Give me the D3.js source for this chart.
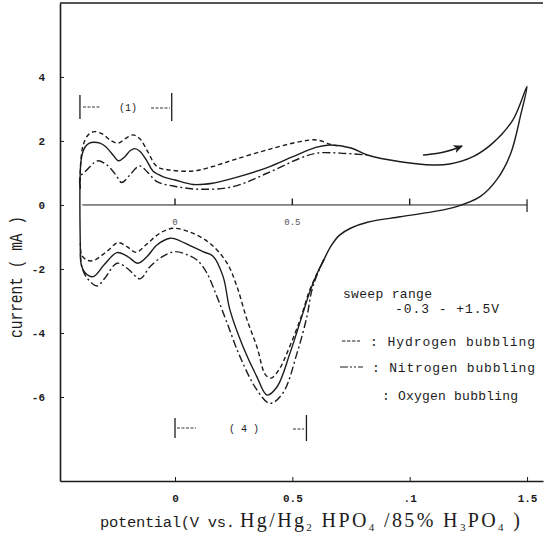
<!DOCTYPE html>
<html>
<head>
<meta charset="utf-8">
<script src="https://cdn.jsdelivr.net/npm/d3@7"></script>
<style>
  body { margin: 0; background: #fff; }
  svg { display: block; }
</style>
</head>
<body>
<svg id="chart" width="545" height="537"></svg>
<script>
// Cyclic voltammograms (sweep -0.3 → +1.5 V) under three bubbling gases
const potentialTicks = [0, 0.5, 1, 1.5];
const potentialTickLabels = ["0", "0.5", ".1", "1.5"];
const currentTicks = [4, 2, 0, -2, -4, -6];
const zeroLineTicks = [0, 0.5, 1];
const zeroLineLabels = ["0", "0.5"];

// [potential (V), current (mA)]
// Oxygen bubbling: full loop, anodic sweep then cathodic return
const oxygenLoop = [
  [-0.403, -1.55], [-0.405, -0.4], [-0.405, 0.6], [-0.402, 1.25], [-0.395, 1.6],
  [-0.383, 1.81], [-0.365, 1.93], [-0.345, 1.96], [-0.32, 1.93], [-0.295, 1.82],
  [-0.265, 1.57], [-0.24, 1.38], [-0.215, 1.5], [-0.19, 1.7], [-0.172, 1.76],
  [-0.15, 1.68], [-0.12, 1.38], [-0.094, 1.06], [-0.05, 0.88], [0, 0.78],
  [0.077, 0.64], [0.16, 0.68], [0.25, 0.84], [0.39, 1.16], [0.5, 1.5],
  [0.6, 1.8], [0.66, 1.875], [0.75, 1.78], [0.82, 1.56], [0.96, 1.35],
  [1.1, 1.25], [1.17, 1.28], [1.27, 1.51], [1.355, 1.94], [1.44, 2.66], [1.5, 3.7],
  [1.475, 2.875], [1.43, 1.6], [1.372, 0.8], [1.3, 0.26], [1.2, -0.05],
  [1.1, -0.21], [0.96, -0.37], [0.82, -0.54], [0.75, -0.72], [0.7, -0.95],
  [0.665, -1.28], [0.635, -1.7], [0.605, -2.15], [0.575, -2.7], [0.545, -3.38],
  [0.49, -4.63], [0.435, -5.68], [0.392, -5.94], [0.349, -5.37], [0.29, -4.43],
  [0.234, -3.28], [0.205, -2.24], [0.162, -1.6], [0.119, -1.46], [0.064, -1.27],
  [0, -1.06], [-0.021, -1.04], [-0.077, -1.25], [-0.12, -1.62], [-0.158, -1.82],
  [-0.2, -1.62], [-0.247, -1.49], [-0.3, -1.85], [-0.349, -2.24], [-0.385, -2.1],
  [-0.4, -1.85], [-0.403, -1.55]
];

// Hydrogen bubbling (dashed)
const hydrogenAnodic = [
  [-0.404, 0.5], [-0.402, 1.3], [-0.392, 1.85], [-0.372, 2.17], [-0.345, 2.29],
  [-0.31, 2.22], [-0.275, 2.02], [-0.243, 1.93], [-0.21, 2.08], [-0.18, 2.19],
  [-0.15, 2.07], [-0.115, 1.65], [-0.077, 1.2], [-0.021, 1.09], [0.077, 1.06],
  [0.16, 1.2], [0.25, 1.41], [0.392, 1.72], [0.533, 1.98], [0.605, 2.03],
  [0.66, 1.9], [0.69, 1.85]
];
const hydrogenCathodic = [
  [0.635, -1.7], [0.605, -2.15], [0.572, -2.7], [0.533, -3.59], [0.477, -4.63],
  [0.447, -5.1], [0.409, -5.41], [0.385, -5.3], [0.349, -4.43], [0.307, -3.59],
  [0.264, -2.55], [0.222, -1.82], [0.149, -1.2], [0.064, -0.85], [-0.009, -0.73],
  [-0.064, -0.88], [-0.12, -1.22], [-0.166, -1.48], [-0.205, -1.3], [-0.243, -1.18],
  [-0.29, -1.45], [-0.349, -1.74], [-0.376, -1.72], [-0.398, -1.56], [-0.403, -1.2]
];

// Nitrogen bubbling (dash-dot)
const nitrogenAnodic = [
  [-0.405, 0.6], [-0.404, 0.88], [-0.376, 1.09], [-0.345, 1.32], [-0.328, 1.38],
  [-0.3, 1.3], [-0.277, 1.16], [-0.25, 0.92], [-0.227, 0.7], [-0.192, 0.94],
  [-0.165, 1.16], [-0.149, 1.22], [-0.119, 1.04], [-0.077, 0.73], [0.009, 0.57],
  [0.107, 0.49], [0.247, 0.57], [0.392, 0.99], [0.533, 1.46], [0.605, 1.62],
  [0.703, 1.62], [0.818, 1.56]
];
const nitrogenCathodic = [
  [0.635, -1.7], [0.607, -2.15], [0.582, -2.7], [0.562, -3.49], [0.52, -4.63],
  [0.46, -5.875], [0.405, -6.2], [0.349, -5.78], [0.277, -4.74], [0.222, -3.69],
  [0.179, -2.87], [0.136, -2.13], [0.094, -1.72], [0.05, -1.55], [0, -1.46],
  [-0.05, -1.6], [-0.107, -1.93], [-0.149, -2.31], [-0.2, -2.0], [-0.247, -1.82],
  [-0.3, -2.3], [-0.332, -2.53], [-0.375, -2.28], [-0.398, -1.9], [-0.403, -1.5]
];

// sweep direction arrow
const sweepArrow = [[1.057, 1.56], [1.15, 1.63], [1.223, 1.84]];

const ink = "#1c1c1c";
const mono = "'Liberation Mono', 'DejaVu Sans Mono', monospace";
const serif = "'Liberation Serif', 'DejaVu Serif', serif";

const svg = d3.select("#chart");
svg.append("rect").attr("width", 545).attr("height", 537).attr("fill", "#fff");

const x = d3.scaleLinear().domain([-0.49, 1.568]).range([60, 543]);
const y = d3.scaleLinear().domain([-8.625, 6.31]).range([481, 3]);

// frame: top rule
svg.append("line")
  .attr("x1", 60).attr("x2", 543).attr("y1", 3).attr("y2", 3)
  .attr("stroke", ink).attr("stroke-width", 1.6);

// axes
const xAxis = d3.axisBottom(x)
  .tickValues(potentialTicks)
  .tickFormat((d, i) => potentialTickLabels[i])
  .tickSizeInner(-4).tickSizeOuter(0).tickPadding(13);
const gx = svg.append("g").attr("transform", `translate(0,${y.range()[0]})`).call(xAxis);

const yAxis = d3.axisLeft(y)
  .tickValues(currentTicks)
  .tickFormat(d => String(d))
  .tickSizeInner(-4).tickSizeOuter(0).tickPadding(15);
const gy = svg.append("g").attr("transform", `translate(${x.range()[0]},0)`).call(yAxis);

[gx, gy].forEach(g => {
  g.select(".domain").attr("stroke", ink).attr("stroke-width", 1.6);
  g.selectAll(".tick line").attr("stroke", ink).attr("stroke-width", 1);
  g.selectAll(".tick text")
    .attr("fill", ink)
    .style("font-family", mono)
    .style("font-weight", "bold")
    .style("font-size", "11px");
});

// zero-current reference line with its own small ticks
const zeroG = svg.append("g");
zeroG.append("line")
  .attr("x1", x(-0.395)).attr("x2", x(1.5))
  .attr("y1", y(0)).attr("y2", y(0))
  .attr("stroke", ink).attr("stroke-width", 1);
zeroG.append("line")
  .attr("x1", x(1.5)).attr("x2", x(1.5))
  .attr("y1", y(0.18)).attr("y2", y(-0.22))
  .attr("stroke", ink).attr("stroke-width", 1.2);
zeroG.selectAll("line.zt").data(zeroLineTicks).join("line")
  .attr("class", "zt")
  .attr("x1", d => x(d)).attr("x2", d => x(d))
  .attr("y1", y(0)).attr("y2", y(0.2))
  .attr("stroke", ink).attr("stroke-width", 1.4);
zeroG.selectAll("text").data(zeroLineLabels).join("text")
  .attr("x", (d, i) => x(zeroLineTicks[i]))
  .attr("y", y(0) + 20)
  .attr("text-anchor", "middle")
  .attr("fill", "#555")
  .style("font-family", mono)
  .style("font-size", "9px")
  .text(d => d);

// curves
const line = d3.line()
  .x(d => x(d[0])).y(d => y(d[1]))
  .curve(d3.curveCatmullRom.alpha(0.5));

const curveG = svg.append("g").attr("fill", "none").attr("stroke", ink)
  .attr("stroke-linejoin", "round");

curveG.append("path").datum(oxygenLoop)
  .attr("d", line).attr("stroke-width", 1.4);

[hydrogenAnodic, hydrogenCathodic].forEach(s => {
  curveG.append("path").datum(s)
    .attr("d", line).attr("stroke-width", 1.4)
    .attr("stroke-dasharray", "4.5,3");
});
[nitrogenAnodic, nitrogenCathodic].forEach(s => {
  curveG.append("path").datum(s)
    .attr("d", line).attr("stroke-width", 1.4)
    .attr("stroke-dasharray", "8,3,2,3");
});

// sweep-direction arrow
svg.append("defs").append("marker")
  .attr("id", "head").attr("viewBox", "0 0 10 10")
  .attr("refX", 8).attr("refY", 5)
  .attr("markerWidth", 7).attr("markerHeight", 7)
  .attr("orient", "auto")
  .append("path").attr("d", "M0,1 L9,5 L0,9 L2.5,5 Z").attr("fill", ink);
svg.append("path").datum(sweepArrow)
  .attr("d", d3.line().x(d => x(d[0])).y(d => y(d[1])).curve(d3.curveBasis))
  .attr("fill", "none").attr("stroke", ink).attr("stroke-width", 1.5)
  .attr("marker-end", "url(#head)");

// region brackets (1) and (4)
function bracket(x0, x1, yc, h0, h1, label, lx, dashL, dashR) {
  const g = svg.append("g").attr("stroke", ink).attr("fill", "none");
  g.append("line").attr("x1", x0).attr("x2", x0).attr("y1", yc - h0).attr("y2", yc + h0).attr("stroke-width", 1.3);
  g.append("line").attr("x1", x1).attr("x2", x1).attr("y1", yc - h1).attr("y2", yc + h1).attr("stroke-width", 1.3);
  g.append("line").attr("x1", dashL[0]).attr("x2", dashL[1]).attr("y1", yc).attr("y2", yc)
    .attr("stroke-width", 0.9).attr("stroke-dasharray", "3,1.5");
  g.append("line").attr("x1", dashR[0]).attr("x2", dashR[1]).attr("y1", yc + 1).attr("y2", yc + 1)
    .attr("stroke-width", 0.9).attr("stroke-dasharray", "3,1.5");
  svg.append("text").attr("x", lx).attr("y", yc + 3.5)
    .attr("text-anchor", "middle").attr("fill", ink)
    .style("font-family", mono).style("font-size", "10px")
    .text(label);
}
bracket(x(-0.405), x(-0.014), y(3.06), 12, 14, "(1)", 128, [83, 101], [151, 170]);
bracket(x(0), x(0.56), y(-6.97), 10, 13, "( 4 )", 244, [177, 196], [293, 304]);

// legend
const legendText = svg.append("g").attr("fill", ink)
  .style("font-family", mono).style("font-size", "13px");
legendText.append("text").attr("x", 343).attr("y", 298).attr("textLength", 89).text("sweep range");
legendText.append("text").attr("x", 395).attr("y", 313).attr("textLength", 104).text("-0.3 - +1.5V");
legendText.append("text").attr("x", 370).attr("y", 346).attr("textLength", 165).text(": Hydrogen bubbling");
legendText.append("text").attr("x", 372).attr("y", 372).attr("textLength", 163).text(": Nitrogen bubbling");
legendText.append("text").attr("x", 382).attr("y", 400).attr("textLength", 136).text(": Oxygen bubbling");

svg.append("line").attr("x1", 342).attr("x2", 360).attr("y1", 341).attr("y2", 341)
  .attr("stroke", ink).attr("stroke-width", 1.2).attr("stroke-dasharray", "3.5,1.5");
svg.append("line").attr("x1", 340).attr("x2", 363).attr("y1", 367).attr("y2", 367)
  .attr("stroke", ink).attr("stroke-width", 1.2).attr("stroke-dasharray", "8,2,2,2,2,2");

// axis titles
svg.append("text")
  .attr("transform", "translate(22,277) rotate(-90) scale(1,1.25)")
  .attr("text-anchor", "middle").attr("fill", ink)
  .style("font-family", mono).style("font-size", "14.5px")
  .attr("textLength", 122)
  .text("current ( mA )");

const xt = svg.append("g").attr("fill", ink);
xt.append("text").attr("x", 100).attr("y", 527)
  .style("font-family", mono).style("font-size", "15.5px")
  .attr("textLength", 135)
  .text("potential(V vs.");
const st = xt.append("text").attr("x", 240).attr("y", 527)
  .style("font-family", serif).style("font-size", "20px")
  .attr("textLength", 280).attr("lengthAdjust", "spacing");
const parts = [
  ["Hg/Hg", 0], ["2", 1], [" HPO", 0], ["4", 1], [" /85% H", 0], ["3", 1], ["PO", 0], ["4", 1], [" )", 0]
];
parts.forEach(([t, sub], i) => {
  const prevSub = i > 0 ? parts[i - 1][1] : 0;
  const ts = st.append("tspan").text(t).attr("dy", sub ? 4 : (prevSub ? -4 : 0));
  if (sub) ts.style("font-size", "11px");
});
</script>
</body>
</html>
